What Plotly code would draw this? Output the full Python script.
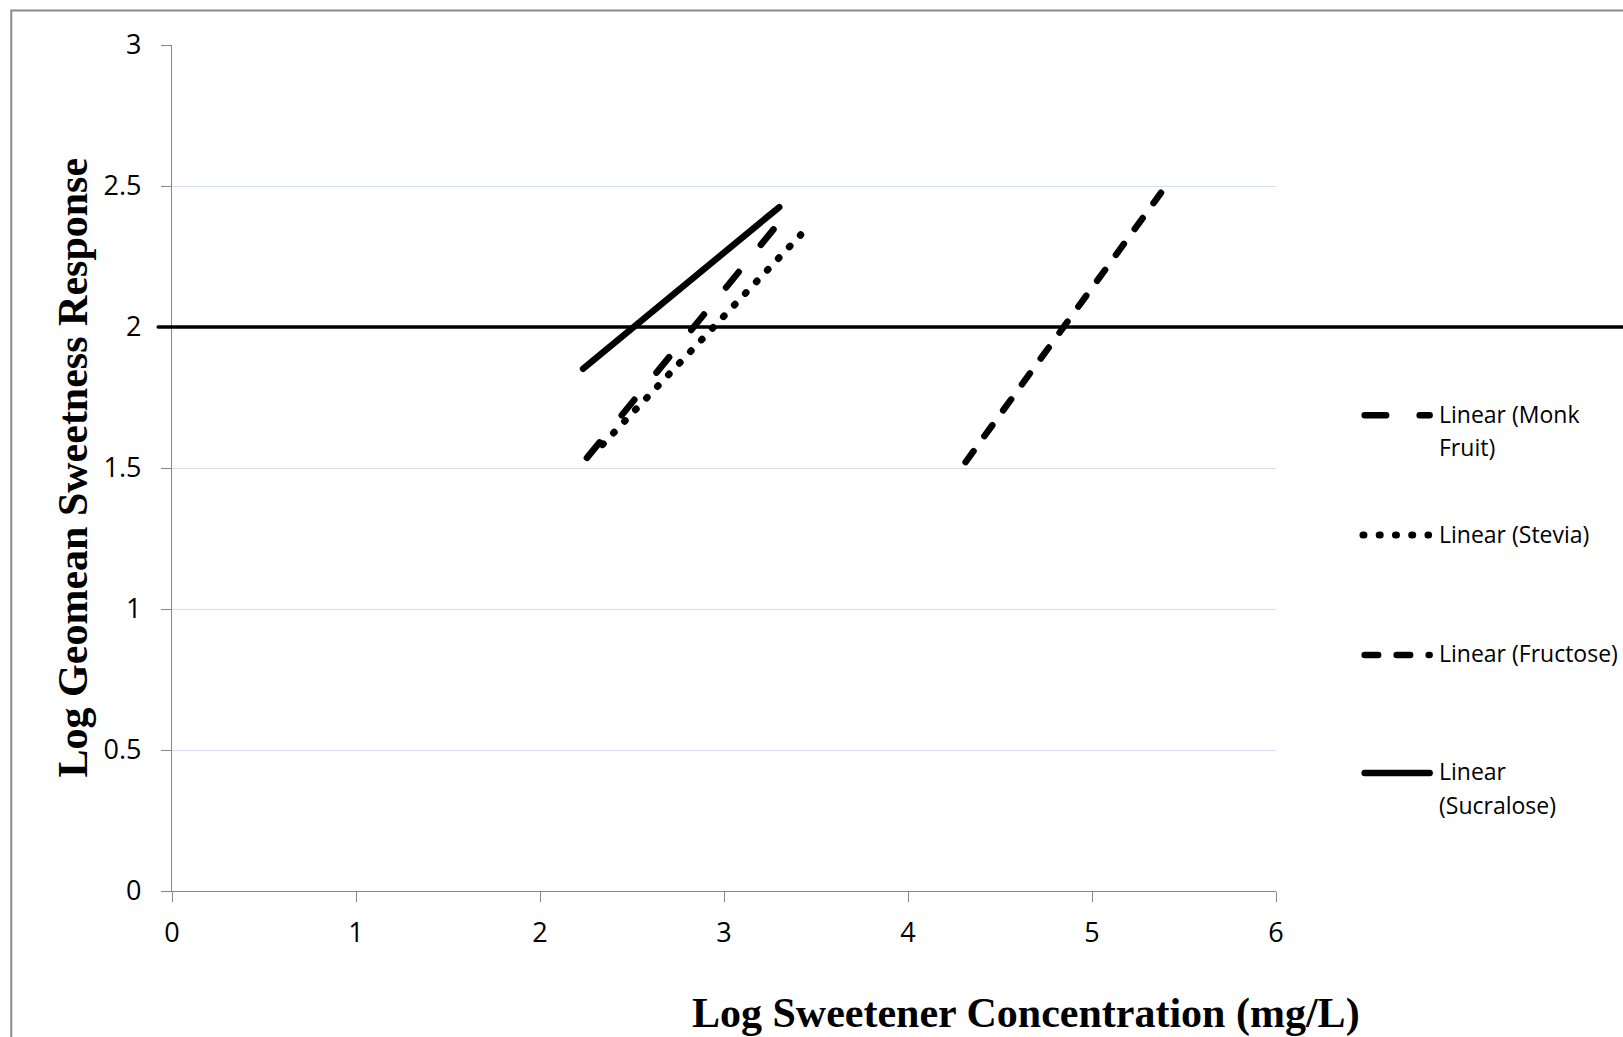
import plotly.graph_objects as go

# ---------------- data ----------------
monk_x = [2.255, 3.305]
monk_y = [1.536, 2.375]

stevia_x = [2.34, 3.417]
stevia_y = [1.583, 2.327]

fructose_x = [4.313, 5.375]
fructose_y = [1.521, 2.476]

sucralose_x = [2.234, 3.300]
sucralose_y = [1.852, 2.425]

threshold_y = 2.0

x_ticks = [0, 1, 2, 3, 4, 5, 6]
y_ticks = [0, 0.5, 1, 1.5, 2, 2.5, 3]

legend_names = ["Linear (Monk|Fruit)", "Linear (Stevia)", "Linear (Fructose)", "Linear|(Sucralose)"]

# ---------------- layout geometry (pixels) ----------------
W, H = 1623, 1037
L, R, T, B = 171.8, 1276.3, 44.5, 891.2   # plot area edges


def px_x(px):
    return (px - L) / (R - L)


def px_y(py):
    return (B - py) / (B - T)


LW = 6.5
styles = {
    "monk": dict(color="black", width=LW, dash="20px,35px"),
    "stevia": dict(color="black", width=LW + 0.5, dash="1px,15px"),
    "fructose": dict(color="black", width=LW, dash="13.5px,18.5px"),
    "sucralose": dict(color="black", width=LW, dash="solid"),
}

fig = go.Figure()
for key, xs, ys in [("monk", monk_x, monk_y), ("stevia", stevia_x, stevia_y),
                    ("fructose", fructose_x, fructose_y), ("sucralose", sucralose_x, sucralose_y)]:
    fig.add_trace(go.Scatter(x=xs, y=ys, mode="lines", line=styles[key],
                             showlegend=False, hoverinfo="skip"))

shapes = []
# outer chart frame
shapes.append(dict(type="rect", xref="paper", yref="paper",
                   x0=px_x(11), x1=px_x(1700), y0=px_y(10), y1=px_y(1100),
                   line=dict(color="#8a8a8a", width=2), fillcolor="rgba(0,0,0,0)", layer="below"))
# horizontal reference line at y = 2
shapes.append(dict(type="line", xref="paper", yref="y",
                   x0=px_x(158), x1=px_x(1700), y0=threshold_y, y1=threshold_y,
                   line=dict(color="black", width=3.5)))

# manual legend
leg_rows = [415, 535, 655, 773]
leg_keys = ["monk", "stevia", "fructose", "sucralose"]
leg_x0 = {"monk": 1365, "stevia": 1363.3, "fructose": 1365, "sucralose": 1365}
leg_x1 = {"monk": 1430, "stevia": 1429, "fructose": 1430, "sucralose": 1430}
leg_dash = {"monk": "21.5px,33.5px", "stevia": "1px,15.25px", "fructose": "13.5px,18.5px", "sucralose": "solid"}

annotations = []
for key, yc, name in zip(leg_keys, leg_rows, legend_names):
    shapes.append(dict(type="line", xref="paper", yref="paper",
                       x0=px_x(leg_x0[key]), x1=px_x(leg_x1[key]), y0=px_y(yc), y1=px_y(yc),
                       line=dict(color="black", width=LW + (0.5 if key == "stevia" else 0),
                                 dash=leg_dash[key])))
    parts = name.split("|")
    for i, part in enumerate(parts):
        annotations.append(dict(text=part, xref="paper", yref="paper",
                                x=px_x(1437), y=px_y(yc - 1.5 + i * 33.5),
                                xanchor="left", yanchor="middle", showarrow=False,
                                font=dict(family="Open Sans", size=23, color="black")))

# axis titles
annotations.append(dict(text="Log Sweetener Concentration (mg/L)", xref="paper", yref="paper",
                        x=px_x(1026), y=px_y(1014), xanchor="center", yanchor="middle",
                        showarrow=False,
                        font=dict(family="Liberation Serif", size=42, color="black", weight="bold")))
annotations.append(dict(text="Log Geomean Sweetness Response", xref="paper", yref="paper",
                        x=px_x(73), y=px_y(468), xanchor="center", yanchor="middle",
                        textangle=-90, showarrow=False,
                        font=dict(family="Liberation Serif", size=42, color="black", weight="bold")))

axis_common = dict(showline=True, linecolor="#868686", linewidth=1.3,
                   ticks="outside", ticklen=10, tickcolor="#868686", tickwidth=1.3,
                   zeroline=False,
                   tickfont=dict(family="Open Sans", size=27, color="black"))

fig.update_layout(
    width=W, height=H, autosize=False,
    margin=dict(l=L, r=W - R, t=T, b=H - B, pad=0),
    paper_bgcolor="white", plot_bgcolor="white",
    showlegend=False,
    xaxis=dict(range=[0, 6], tickvals=x_ticks, ticktext=[str(v) for v in x_ticks],
               showgrid=False, ticklabelstandoff=7, **axis_common),
    yaxis=dict(range=[0, 3], tickvals=y_ticks, ticktext=[f"{v:g}" for v in y_ticks],
               showgrid=True, gridcolor="#D5DEEE", gridwidth=1.3,
               ticklabelstandoff=14, **axis_common),
    shapes=shapes,
    annotations=annotations,
)

post = """
var gd = document.getElementById('{plot_id}');
function roundCaps(){
  gd.querySelectorAll('.scatterlayer path.js-line, .shapelayer path').forEach(function(p){
    p.style.strokeLinecap = 'round';
  });
}
roundCaps();
if (gd.on) { gd.on('plotly_afterplot', roundCaps); }
"""

fig.write_html("out.html", post_script=post, config={"responsive": False})
